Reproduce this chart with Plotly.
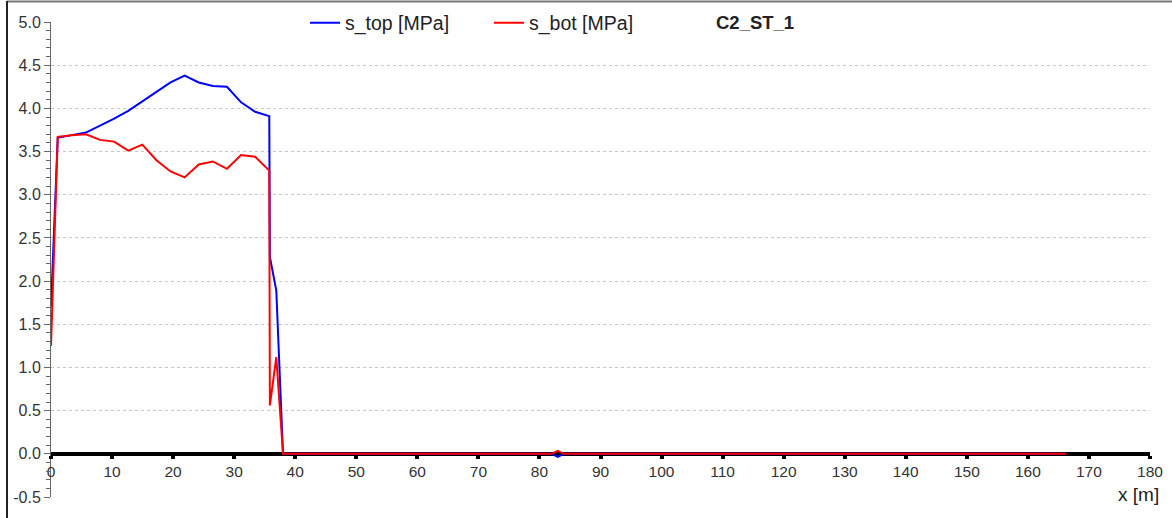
import plotly.graph_objects as go

# Data
x_pos = [0.0, 1.1, 3.41, 5.72, 8.03, 10.34, 12.65, 14.96, 17.27, 19.58, 21.89,
         24.2, 26.51, 28.82, 31.13, 33.44, 35.75, 35.85, 36.9, 38.0,
         82.0, 83.0, 84.0, 166.2]
s_top = [1.70, 3.66, 3.69, 3.72, 3.80, 3.88, 3.97, 4.08, 4.20, 4.30, 4.38,
         4.30, 4.26, 4.25, 4.07, 3.96, 3.91, 2.28, 1.89, 0.0,
         0.0, -0.035, 0.0, 0.0]
s_bot = [1.25, 3.67, 3.69, 3.70, 3.635, 3.615, 3.51, 3.58, 3.40, 3.27, 3.20,
         3.35, 3.385, 3.30, 3.46, 3.44, 3.28, 0.56, 1.12, 0.0,
         0.0, 0.035, 0.0, 0.0]
x_ticks = list(range(0, 181, 10))
y_ticks = [-0.5, 0.0, 0.5, 1.0, 1.5, 2.0, 2.5, 3.0, 3.5, 4.0, 4.5, 5.0]

FONT = "Liberation Sans, Arial, sans-serif"
W, H = 1172, 518
L, R, T, B = 51, 22, 22, 21
pw, ph = W - L - R, H - T - B

def px2x(p):
    return (p - L) / pw

def py2y(p):
    return (H - B - p) / ph

fig = go.Figure()
fig.add_trace(go.Scatter(x=x_pos, y=s_top, mode="lines", name="s_top [MPa]",
                         line=dict(color="#0000ff", width=2)))
fig.add_trace(go.Scatter(x=x_pos, y=s_bot, mode="lines", name="s_bot [MPa]",
                         line=dict(color="#ff0000", width=2)))

fig.update_layout(
    width=W, height=H,
    margin=dict(l=L, r=R, t=T, b=B, pad=0, autoexpand=False),
    paper_bgcolor="white", plot_bgcolor="white",
    font=dict(family=FONT, size=15, color="#333333"),
    showlegend=True,
    legend=dict(orientation="h", x=px2x(305), xanchor="left",
                y=py2y(23), yanchor="middle", bgcolor="rgba(0,0,0,0)",
                font=dict(family=FONT, size=19.5, color="#222222"),
                entrywidth=139, entrywidthmode="pixels",
                itemwidth=30, tracegroupgap=0),
    xaxis=dict(range=[0, 180], tickvals=x_ticks, ticktext=[str(v) for v in x_ticks],
               showgrid=False, zeroline=False, automargin=False,
               showline=True, linecolor="black", linewidth=4,
               ticks="outside", ticklen=3, tickwidth=4, tickcolor="black",
               anchor="free", position=0.5 / 5.5, layer="below traces",
               tickfont=dict(family=FONT, size=15.5, color="#333333")),
    yaxis=dict(range=[-0.5, 5.0], tickvals=y_ticks, automargin=False,
               ticktext=[f"{v:.1f}" for v in y_ticks],
               showgrid=True, gridcolor="#c8c8c8", griddash="dot", gridwidth=1,
               zeroline=False, layer="below traces",
               showline=True, linecolor="#666666", linewidth=1,
               ticks="outside", ticklen=6, tickwidth=1, tickcolor="#666666",
               minor=dict(dtick=0.1, tick0=0, ticks="outside", ticklen=4,
                          tickcolor="#666666", tickwidth=1, showgrid=False),
               tickfont=dict(family=FONT, size=16, color="#333333")),
)

fig.add_annotation(text="<b>C2_ST_1</b>", xref="paper", yref="paper",
                   x=px2x(755), y=py2y(23), xanchor="center", yanchor="middle",
                   showarrow=False, font=dict(family=FONT, size=18.5, color="#222222"))
fig.add_annotation(text="x [m]", xref="paper", yref="paper",
                   x=px2x(1161), y=py2y(494), xanchor="right", yanchor="middle",
                   showarrow=False, font=dict(family=FONT, size=19, color="#222222"))

# outer frame
fig.add_shape(type="line", xref="paper", yref="paper",
              x0=px2x(7), x1=px2x(1180), y0=py2y(1.5), y1=py2y(1.5),
              line=dict(color="#777777", width=2))
fig.add_shape(type="line", xref="paper", yref="paper",
              x0=px2x(7), x1=px2x(7), y0=py2y(1), y1=py2y(530),
              line=dict(color="#222222", width=2))

fig.write_html("out.html", config={"displayModeBar": False},
               post_script="document.body.style.margin='0';document.body.style.overflow='hidden';")
